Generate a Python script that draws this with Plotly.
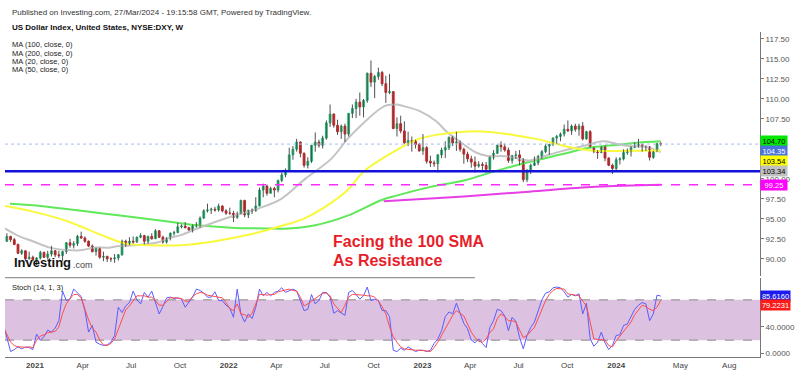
import pandas as pd
import plotly.graph_objects as go

# ---------------- DATA ----------------
week_start = "2020-11-02"
opens = [94.0, 92.2, 92.8, 92.4, 91.8, 90.7, 91.0, 90.0, 90.2, 89.9,
         90.1, 90.8, 90.2, 90.6, 91.0, 90.5, 90.4, 90.9, 92.0, 91.7,
         91.9, 92.8, 92.6, 92.2, 91.6, 90.9, 91.3, 90.2, 90.3, 90.0,
         90.0, 90.1, 90.5, 92.2, 91.8, 92.2, 92.1, 92.7, 92.9, 92.2,
         92.8, 92.5, 93.5, 92.7, 92.1, 92.6, 93.2, 93.3, 94.0, 94.1,
         93.9, 93.6, 94.1, 94.3, 95.1, 96.0, 96.1, 96.2, 96.1, 96.6,
         96.0, 95.7, 95.7, 95.2, 95.6, 97.3, 95.5, 96.1, 96.0, 96.6,
         98.6, 99.1, 98.2, 98.8, 98.6, 99.8, 100.5, 101.1, 103.0, 103.7,
         104.6, 103.2, 101.7, 102.2, 104.2, 104.6, 104.2, 105.1, 107.0, 108.1,
         106.7, 105.9, 106.6, 105.6, 108.2, 108.8, 109.6, 109.0, 109.8, 113.2,
         112.1, 112.8, 113.3, 111.9, 110.8, 110.9, 106.3, 106.9, 106.0, 104.5,
         104.8, 104.7, 104.3, 103.5, 103.9, 102.2, 102.0, 101.9, 103.0, 103.6,
         103.9, 105.2, 104.5, 104.6, 103.7, 103.1, 102.5, 102.1, 101.6, 101.8,
         101.7, 101.2, 102.7, 103.2, 104.2, 104.0, 103.6, 102.3, 102.9, 103.0,
         102.3, 99.9, 101.1, 101.7, 102.0, 102.8, 103.4, 104.1, 104.3, 105.1,
         105.3, 105.6, 106.2, 106.0, 106.6, 106.2, 106.6, 105.0, 105.9, 103.9,
         103.4, 103.3, 104.0, 102.6, 101.7, 101.3, 102.4, 102.5, 103.3, 103.4,
         103.9, 104.1, 104.3, 104.0, 104.0, 102.7, 103.4, 104.4]
highs = [94.3, 93.2, 92.9, 92.6, 91.9, 91.2, 91.0, 90.9, 90.4, 90.2,
         91.0, 90.9, 91.0, 91.6, 91.1, 91.0, 91.0, 92.1, 92.5, 92.2,
         93.0, 93.4, 92.8, 92.3, 91.8, 91.4, 91.4, 90.9, 90.4, 90.2,
         90.6, 90.6, 92.4, 92.4, 92.7, 92.8, 92.8, 93.2, 93.0, 92.9,
         93.2, 93.7, 93.6, 92.9, 92.7, 93.3, 93.5, 94.5, 94.3, 94.6,
         94.0, 94.3, 94.6, 95.3, 96.2, 96.9, 96.4, 96.5, 96.9, 96.7,
         96.2, 96.4, 96.0, 95.9, 97.4, 97.4, 96.1, 96.3, 97.7, 98.9,
         99.4, 99.3, 99.0, 99.0, 99.9, 100.8, 101.3, 103.9, 104.1, 105.0,
         104.7, 103.3, 102.7, 104.2, 105.8, 104.9, 105.4, 107.3, 109.3, 108.2,
         107.4, 106.8, 106.9, 108.2, 109.3, 110.0, 110.8, 110.0, 113.3, 114.8,
         113.0, 113.9, 113.5, 112.9, 113.1, 111.0, 107.7, 107.9, 107.2, 105.9,
         105.3, 104.9, 104.5, 105.6, 104.1, 102.9, 102.3, 103.1, 103.9, 104.7,
         105.3, 105.4, 105.9, 104.8, 103.9, 103.4, 102.9, 102.8, 102.2, 102.1,
         102.1, 102.8, 103.6, 104.3, 104.7, 104.4, 103.9, 103.0, 103.5, 103.6,
         102.6, 101.2, 101.9, 102.8, 103.0, 103.6, 104.4, 104.4, 105.2, 105.5,
         105.8, 106.8, 107.3, 106.8, 106.9, 106.9, 107.1, 106.0, 106.1, 104.0,
         103.6, 104.1, 104.2, 102.7, 101.9, 102.7, 102.7, 103.7, 103.8, 104.1,
         104.6, 105.0, 104.4, 104.2, 104.1, 103.5, 104.5, 104.6]
lows = [92.1, 92.1, 92.1, 91.7, 90.6, 90.5, 89.7, 89.9, 89.7, 89.2,
        89.9, 90.1, 89.9, 90.3, 90.2, 90.1, 89.7, 90.6, 91.4, 91.3,
        91.6, 92.5, 92.0, 91.5, 90.8, 90.4, 90.0, 89.7, 89.6, 89.6,
        89.5, 89.8, 90.4, 91.5, 91.7, 91.9, 92.0, 92.6, 91.8, 91.9,
        92.4, 92.5, 92.6, 91.9, 91.9, 92.3, 92.9, 93.2, 93.8, 93.8,
        93.5, 93.3, 93.9, 93.9, 95.0, 95.8, 95.6, 95.9, 95.9, 95.8,
        95.5, 95.5, 94.6, 95.0, 95.6, 95.2, 95.1, 95.6, 95.9, 96.6,
        97.7, 97.9, 98.2, 97.7, 98.3, 99.6, 100.2, 101.0, 102.4, 103.4,
        102.7, 101.4, 101.3, 102.0, 103.4, 103.9, 103.8, 104.9, 106.5, 106.4,
        105.5, 105.0, 104.6, 105.3, 107.6, 107.6, 107.9, 107.7, 109.5, 111.5,
        110.1, 112.4, 111.6, 109.5, 110.6, 106.2, 105.3, 105.7, 104.4, 104.1,
        103.4, 103.8, 103.4, 103.0, 101.9, 101.5, 101.5, 100.8, 102.6, 102.6,
        103.6, 104.1, 103.5, 103.4, 101.9, 102.1, 101.4, 100.8, 101.4, 101.0,
        100.8, 101.0, 102.4, 103.1, 103.4, 103.4, 102.0, 101.9, 102.5, 101.7,
        99.6, 99.6, 100.6, 101.6, 101.7, 102.5, 103.2, 103.0, 104.1, 104.4,
        104.7, 105.3, 105.9, 105.5, 105.9, 105.4, 104.8, 104.9, 103.9, 103.2,
        102.5, 103.2, 102.2, 101.6, 100.6, 101.0, 101.8, 102.3, 103.0, 102.8,
        103.9, 103.9, 103.4, 103.5, 102.3, 102.5, 103.4, 104.1]
closes = [92.2, 92.8, 92.4, 91.8, 90.7, 91.0, 90.0, 90.2, 89.9, 90.1,
          90.8, 90.2, 90.6, 91.0, 90.5, 90.4, 90.9, 92.0, 91.7, 91.9,
          92.8, 92.6, 92.2, 91.6, 90.9, 91.3, 90.2, 90.3, 90.0, 90.0,
          90.1, 90.5, 92.2, 91.8, 92.2, 92.1, 92.7, 92.9, 92.2, 92.8,
          92.5, 93.5, 92.7, 92.1, 92.6, 93.2, 93.3, 94.0, 94.1, 93.9,
          93.6, 94.1, 94.3, 95.1, 96.0, 96.1, 96.2, 96.1, 96.6, 96.0,
          95.7, 95.7, 95.2, 95.6, 97.3, 95.5, 96.1, 96.0, 96.6, 98.6,
          99.1, 98.2, 98.8, 98.6, 99.8, 100.5, 101.1, 103.0, 103.7, 104.6,
          103.2, 101.7, 102.2, 104.2, 104.6, 104.2, 105.1, 107.0, 108.1, 106.7,
          105.9, 106.6, 105.6, 108.2, 108.8, 109.6, 109.0, 109.8, 113.2, 112.1,
          112.8, 113.3, 111.9, 110.8, 110.9, 106.3, 106.9, 106.0, 104.5, 104.8,
          104.7, 104.3, 103.5, 103.9, 102.2, 102.0, 101.9, 103.0, 103.6, 103.9,
          105.2, 104.5, 104.6, 103.7, 103.1, 102.5, 102.1, 101.6, 101.8, 101.7,
          101.2, 102.7, 103.2, 104.2, 104.0, 103.6, 102.3, 102.9, 103.0, 102.3,
          99.9, 101.1, 101.7, 102.0, 102.8, 103.4, 104.1, 104.3, 105.1, 105.3,
          105.6, 106.2, 106.0, 106.6, 106.2, 106.6, 105.0, 105.9, 103.9, 103.4,
          103.3, 104.0, 102.6, 101.7, 101.3, 102.4, 102.5, 103.3, 103.4, 103.9,
          104.1, 104.3, 104.0, 104.0, 102.7, 103.4, 104.4, 104.35]

stoch_k = [45, 22, 3, 6, 10, 7, 10, 9, 6, 29,
           20, 25, 35, 32, 38, 49, 93, 79, 81, 96,
           91, 85, 64, 32, 42, 17, 14, 12, 13, 17,
           27, 69, 61, 71, 76, 93, 80, 74, 91, 84,
           93, 74, 59, 70, 83, 84, 82, 83, 81, 69,
           77, 84, 96, 94, 90, 84, 84, 92, 79, 79,
           72, 68, 54, 96, 59, 47, 59, 52, 69, 96,
           86, 91, 86, 91, 93, 98, 91, 93, 96, 93,
           78, 64, 66, 88, 74, 79, 91, 91, 84, 60,
           64, 60, 57, 91, 94, 88, 81, 86, 99, 79,
           81, 79, 64, 64, 55, 5, 3, 8, 5, 10,
           7, 3, 5, 5, 3, 5, 15, 22, 34, 55,
           62, 59, 75, 59, 45, 37, 20, 16, 22, 15,
           9, 39, 49, 66, 64, 56, 34, 54, 48, 24,
           7, 27, 39, 47, 64, 80, 90, 92, 98, 99,
           98, 92, 84, 88, 86, 89, 59, 75, 22, 11,
           17, 32, 16, 6, 12, 27, 28, 42, 44, 54,
           66, 72, 76, 74, 49, 59, 87, 85.6160]
stoch_d = [40, 28, 17, 12, 10, 10, 9, 10, 9, 20,
           26, 28, 31, 32, 33, 40, 60, 74, 82, 88,
           88, 83, 66, 50, 38, 32, 20, 13, 12, 15,
           22, 37, 52, 65, 71, 78, 86, 86, 86, 84,
           84, 79, 72, 72, 78, 83, 83, 83, 82, 78,
           78, 85, 89, 91, 90, 87, 86, 86, 84, 83,
           76, 67, 64, 74, 59, 58, 54, 60, 74, 88,
           88, 87, 88, 88, 92, 93, 95, 96, 94, 93,
           84, 71, 74, 78, 82, 85, 90, 90, 86, 74,
           68, 61, 72, 84, 88, 88, 88, 87, 86, 86,
           84, 78, 70, 59, 40, 25, 17, 10, 7, 6,
           6, 5, 5, 5, 4, 3, 9, 17, 27, 37,
           47, 57, 64, 60, 56, 44, 32, 24, 18, 17,
           22, 31, 37, 52, 59, 55, 49, 49, 47, 35,
           24, 27, 33, 39, 52, 66, 79, 88, 94, 97,
           97, 96, 89, 88, 87, 86, 78, 71, 47, 22,
           21, 20, 20, 12, 10, 19, 26, 34, 40, 47,
           58, 65, 72, 70, 66, 64, 69, 79.2231]

ma20_dates = ["2020-11-05", "2020-12-03", "2020-12-28", "2021-01-29", "2021-03-03", "2021-04-01",
              "2021-04-19", "2021-05-21", "2021-06-08", "2021-07-05", "2021-08-23", "2021-09-05",
              "2021-10-04", "2021-11-03", "2022-01-06", "2022-02-26", "2022-04-10", "2022-05-25",
              "2022-07-13", "2022-08-13", "2022-09-12", "2022-10-14", "2022-10-26", "2022-11-13",
              "2022-11-26", "2022-12-26", "2023-01-27", "2023-02-14", "2023-03-05", "2023-03-20",
              "2023-04-12", "2023-05-02", "2023-06-14", "2023-07-21", "2023-08-22", "2023-09-22",
              "2023-11-06", "2023-12-07", "2024-01-01", "2024-01-24", "2024-02-26", "2024-03-25"]
ma20_vals = [93.8, 92.8, 92.2, 91.4, 91.1, 91.1,
             91.4, 91.4, 91.6, 91.7, 92.1, 92.5,
             93.0, 93.8, 95.3, 96.3, 97.5, 100.0,
             102.5, 105.0, 107.0, 108.8, 109.2, 109.3,
             109.1, 108.5, 107.2, 106.0, 105.0, 104.3,
             103.3, 102.9, 102.8, 102.3, 102.9, 103.5,
             104.2, 104.7, 104.4, 104.1, 104.0, 103.34]

ma50_dates = ["2020-11-05", "2020-12-28", "2021-03-03", "2021-05-05", "2021-06-21", "2021-08-03",
              "2021-10-04", "2021-12-06", "2022-02-07", "2022-04-10", "2022-05-25", "2022-07-13",
              "2022-08-13", "2022-09-12", "2022-10-14", "2022-11-13", "2022-12-21", "2023-01-27",
              "2023-03-20", "2023-05-02", "2023-06-21", "2023-08-03", "2023-09-09", "2023-10-11",
              "2023-11-23", "2023-12-25", "2024-03-25"]
ma50_vals = [96.6, 95.9, 94.7, 93.0, 91.9, 91.7,
             91.7, 92.2, 93.0, 94.1, 95.1, 97.0,
             98.6, 100.9, 102.4, 103.6, 104.9, 105.5,
             105.9, 105.9, 105.5, 105.0, 104.4, 103.9,
             103.5, 103.5, 103.54]

ma100_dates = ["2020-11-15", "2020-12-28", "2021-05-05", "2021-09-05", "2021-11-03", "2022-01-06",
               "2022-03-11", "2022-04-23", "2022-06-13", "2022-08-13", "2022-10-14", "2022-11-13",
               "2023-01-16", "2023-03-20", "2023-05-20", "2023-07-21", "2023-09-22", "2023-11-11",
               "2023-12-25", "2024-02-06", "2024-03-25"]
ma100_vals = [96.9, 96.7, 95.7, 94.7, 94.2, 93.9,
              93.8, 93.8, 94.2, 95.4, 97.3, 97.9,
              99.0, 99.8, 101.0, 102.1, 103.1, 103.9,
              104.2, 104.5, 104.70]

ma200_dates = ["2022-10-20", "2022-11-13", "2023-03-20", "2023-07-21", "2023-11-23", "2024-03-25"]
ma200_vals = [97.2, 97.3, 97.8, 98.4, 99.0, 99.25]

support_level = 100.95
ma200_level = 99.25
last_price = 104.35

price_ticks = [90.0, 92.5, 95.0, 97.5, 100.0, 107.5, 110.0, 112.5, 115.0, 117.5]
stoch_ticks = [0, 40]
date_tick_vals = ["2021-01-01", "2021-04-01", "2021-07-01", "2021-10-01",
                  "2022-01-01", "2022-04-01", "2022-07-01", "2022-10-01",
                  "2023-01-01", "2023-04-01", "2023-07-01", "2023-10-01",
                  "2024-01-01", "2024-05-01", "2024-08-01"]
date_tick_text = ["<b>2021</b>", "Apr", "Jul", "Oct", "<b>2022</b>", "Apr", "Jul", "Oct",
                  "<b>2023</b>", "Apr", "Jul", "Oct", "<b>2024</b>", "May", "Aug"]

# ---------------- FIGURE ----------------
dates = pd.date_range(week_start, periods=len(closes), freq="7D")
FONT = "Liberation Sans, Arial, sans-serif"
GREEN = "#1fc07a"
RED = "#f0161b"

W, H = 800, 375
ML, MR, MT, MB = 5, 35, 32, 15
PW, PH = W - ML - MR, H - MT - MB


def px(x):
    return (x - ML) / PW


def py(y):
    return (H - MB - y) / PH


fig = go.Figure()

# stoch band
fig.add_shape(type="rect", xref="x2 domain", yref="y2", x0=0, x1=1, y0=20, y1=80,
              fillcolor="#dcc1e0", line_width=0, layer="below")
for lvl in (20, 80):
    fig.add_shape(type="line", xref="x2 domain", yref="y2", x0=0, x1=1, y0=lvl, y1=lvl,
                  line=dict(color="#8a8a8a", width=1, dash="dash"), layer="below")

# horizontal levels on the price pane
fig.add_shape(type="line", xref="x domain", yref="y", x0=0, x1=1, y0=last_price, y1=last_price,
              line=dict(color="#a9bdec", width=1, dash="dot"))
fig.add_shape(type="line", xref="x domain", yref="y", x0=0, x1=1, y0=support_level, y1=support_level,
              line=dict(color="#1212d8", width=2.5))
fig.add_shape(type="line", xref="x domain", yref="y", x0=0, x1=1, y0=ma200_level, y1=ma200_level,
              line=dict(color="#ff2aff", width=1.5, dash="dash"))

# pane separator
fig.add_shape(type="line", xref="paper", yref="paper", x0=0, x1=px(478), y0=py(280), y1=py(280),
              line=dict(color="#7a7a7a", width=1))

# moving averages
for d, v, c in [(ma100_dates, ma100_vals, "#5ee85a"),
                (ma200_dates, ma200_vals, "#e63fe6"),
                (ma20_dates, ma20_vals, "#c4c4c4"),
                (ma50_dates, ma50_vals, "#f8f83c")]:
    fig.add_trace(go.Scatter(x=d, y=v, mode="lines", line=dict(color=c, width=2, shape="spline"),
                             xaxis="x", yaxis="y", hoverinfo="skip", showlegend=False))

# wicks
wx, wy = [], []
for d, h, l in zip(dates, highs, lows):
    wx += [d, d, None]
    wy += [l, h, None]
fig.add_trace(go.Scatter(x=wx, y=wy, mode="lines", line=dict(color="#505050", width=1),
                         xaxis="x", yaxis="y", hoverinfo="skip", showlegend=False))

# candle bodies
body_hi = [max(o, c) for o, c in zip(opens, closes)]
body_lo = [min(o, c) for o, c in zip(opens, closes)]
fig.add_trace(go.Candlestick(x=dates, open=opens, high=body_hi, low=body_lo, close=closes,
                             increasing=dict(line=dict(color=GREEN, width=1), fillcolor=GREEN),
                             decreasing=dict(line=dict(color=RED, width=1), fillcolor=RED),
                             xaxis="x", yaxis="y", showlegend=False, hoverinfo="skip"))

# stochastic
fig.add_trace(go.Scatter(x=dates, y=stoch_k, mode="lines", line=dict(color="#5c5cff", width=1),
                         xaxis="x2", yaxis="y2", showlegend=False, hoverinfo="skip"))
fig.add_trace(go.Scatter(x=dates, y=stoch_d, mode="lines", line=dict(color="#ff4c4c", width=1),
                         xaxis="x2", yaxis="y2", showlegend=False, hoverinfo="skip"))

xr = ["2020-11-05 12:00", "2024-09-28"]
main_bottom = py(278)
stoch_top = py(280)
y_lo = 117.5 - (278 - 39) / 8.07
y_hi = 117.5 + (39 - 32) / 8.07
s_lo = 20 + (343 - 360) / 0.678
s_hi = 20 + (343 - 280) / 0.678

fig.update_layout(
    width=W, height=H, margin=dict(l=ML, r=MR, t=MT, b=MB),
    paper_bgcolor="white", plot_bgcolor="white",
    font=dict(family=FONT, size=8, color="#333"),
    showlegend=False,
    xaxis=dict(domain=[0, 1], range=xr, anchor="y", showticklabels=False, showgrid=False,
               zeroline=False, rangeslider=dict(visible=False), type="date"),
    yaxis=dict(domain=[main_bottom, 1], range=[y_lo, y_hi], side="right", anchor="x",
               tickvals=price_ticks, tickformat=".2f", ticks="outside", ticklen=3,
               tickcolor="#777", showline=True, linecolor="#777", linewidth=1,
               showgrid=False, zeroline=False, tickfont=dict(size=8, color="#555")),
    xaxis2=dict(domain=[0, 1], range=xr, anchor="y2", matches="x", showgrid=False,
                zeroline=False, tickvals=date_tick_vals, ticktext=date_tick_text,
                showline=True, linecolor="#777", linewidth=1, ticks="",
                tickfont=dict(size=8, color="#444"), type="date"),
    yaxis2=dict(domain=[0, stoch_top], range=[s_lo, s_hi], side="right", anchor="x2",
                tickvals=stoch_ticks, tickformat=".4f", ticks="outside", ticklen=3,
                tickcolor="#777", showline=True, linecolor="#777", linewidth=1,
                showgrid=False, zeroline=False, tickfont=dict(size=8, color="#555")),
)

ann = []
# header texts
ann.append(dict(text="Published on Investing.com, 27/Mar/2024 - 19:15:58 GMT, Powered by TradingView.",
                x=px(10), y=py(12), xref="paper", yref="paper", xanchor="left", yanchor="middle",
                showarrow=False, font=dict(size=8, color="#333")))
ann.append(dict(text="<b>US Dollar Index, United States, NYSE:DXY, W</b>",
                x=px(10), y=py(27), xref="paper", yref="paper", xanchor="left", yanchor="middle",
                showarrow=False, font=dict(size=8, color="#111")))
for i, t in enumerate(["MA (100, close, 0)", "MA (200, close, 0)", "MA (20, close, 0)", "MA (50, close, 0)"]):
    ann.append(dict(text=t, x=px(10), y=py(45 + 8.3 * i), xref="paper", yref="paper",
                    xanchor="left", yanchor="middle", showarrow=False, font=dict(size=7.5, color="#222")))
ann.append(dict(text="Stoch (14, 1, 3)", x=px(10), y=py(290), xref="paper", yref="paper",
                xanchor="left", yanchor="middle", showarrow=False, font=dict(size=7.5, color="#222")))
# commentary
ann.append(dict(text="<b>Facing the 100 SMA</b>", x=px(333), y=py(243), xref="paper", yref="paper",
                xanchor="left", yanchor="middle", showarrow=False, font=dict(size=16, color="#e81d2a")))
ann.append(dict(text="<b>As Resistance</b>", x=px(333), y=py(263), xref="paper", yref="paper",
                xanchor="left", yanchor="middle", showarrow=False, font=dict(size=16, color="#e81d2a")))
# logo
ann.append(dict(text="<b>Investing</b>", x=px(12), y=py(265), xref="paper", yref="paper",
                xanchor="left", yanchor="middle", showarrow=False, font=dict(size=13, color="#111")))
ann.append(dict(text=".com", x=px(71), y=py(267), xref="paper", yref="paper",
                xanchor="left", yanchor="middle", showarrow=False, font=dict(size=9, color="#444")))

# right-axis value labels
labels = [(ma100_vals[-1], 142, "#00e800", "#000"),
          (last_price, 152, "#4b73de", "#fff"),
          (ma50_vals[-1], 162.5, "#ffff00", "#000"),
          (ma20_vals[-1], 172.5, "#c0c0c0", "#000"),
          (ma200_level, 186.5, "#ff00ff", "#fff")]
for val, yc, bg, fg in labels:
    ann.append(dict(text="%.2f" % val, x=1, y=py(yc), xref="paper", yref="paper",
                    xanchor="left", yanchor="middle", showarrow=False, bgcolor=bg,
                    font=dict(size=7.5, color=fg), borderpad=0, width=26, height=10, align="center"))
for val, yc, bg in [(stoch_k[-1], 298, "#1b1bf0"), (stoch_d[-1], 308, "#ff1a1a")]:
    ann.append(dict(text="%.4f" % val, x=1, y=py(yc), xref="paper", yref="paper",
                    xanchor="left", yanchor="middle", showarrow=False, bgcolor=bg,
                    font=dict(size=7.5, color="#fff"), borderpad=0, width=29, height=10, align="center"))
fig.update_layout(annotations=ann)

fig.write_html("out.html", config={"displayModeBar": False},
               post_script="document.body.style.margin='0';document.body.style.overflow='hidden';")
